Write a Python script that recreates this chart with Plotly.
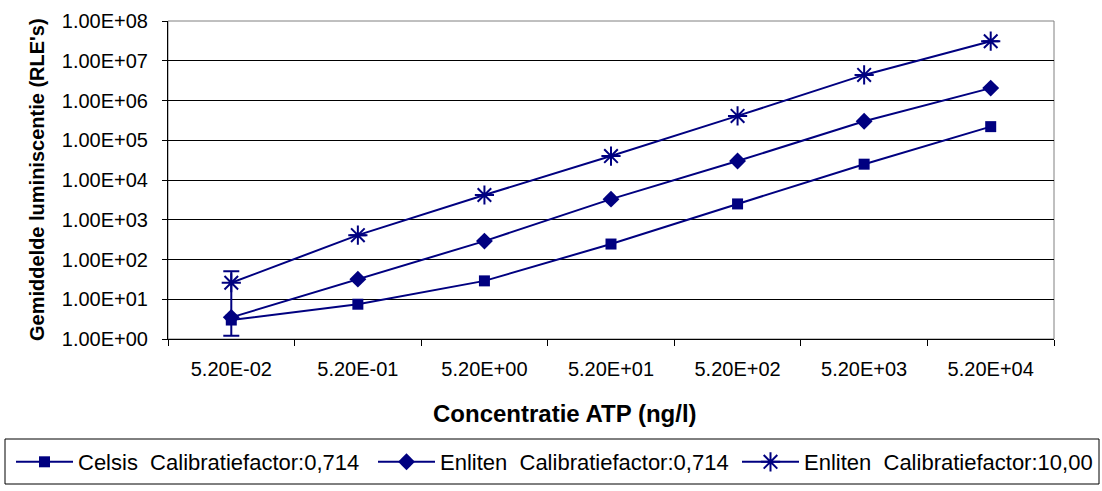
import plotly.graph_objects as go

categories = ["5.20E-02", "5.20E-01", "5.20E+00", "5.20E+01", "5.20E+02", "5.20E+03", "5.20E+04"]
celsis_0714 = [3.0, 7.5, 29, 245, 2500, 25000, 220000]
enliten_0714 = [3.5, 32, 290, 3300, 30000, 300000, 2050000]
enliten_10 = [26, 410, 4200, 40000, 410000, 4400000, 31000000]
enliten_10_err = [24.8, None, None, None, None, None, None]
ytick_vals = [1, 10, 100, 1000, 10000, 100000, 1000000, 10000000, 100000000]
ytick_text = ["1.00E+00", "1.00E+01", "1.00E+02", "1.00E+03", "1.00E+04",
              "1.00E+05", "1.00E+06", "1.00E+07", "1.00E+08"]
names = ["Celsis  Calibratiefactor:0,714", "Enliten  Calibratiefactor:0,714",
         "Enliten  Calibratiefactor:10,00"]

NAVY = "#000080"
FONT = "Arial, 'Liberation Sans', sans-serif"

# plot area in pixels
L, R, T, B = 168, 1054, 21, 339
W, H = R - L, B - T


def px(xp):
    return (xp - L) / W


def py(yp):
    return (B - yp) / H


fig = go.Figure()
fig.add_trace(go.Scatter(x=categories, y=celsis_0714, name=names[0], mode="lines+markers",
                         legend="legend",
                         line=dict(color=NAVY, width=2),
                         marker=dict(symbol="square", size=11, color=NAVY)))
fig.add_trace(go.Scatter(x=categories, y=enliten_0714, name=names[1], mode="lines+markers",
                         legend="legend2",
                         line=dict(color=NAVY, width=2),
                         marker=dict(symbol="diamond", size=13, color=NAVY)))
fig.add_trace(go.Scatter(x=categories, y=enliten_10, name=names[2], mode="lines+markers",
                         legend="legend3",
                         line=dict(color=NAVY, width=2),
                         marker=dict(symbol="asterisk-open", size=16, color=NAVY,
                                     line=dict(color=NAVY, width=2)),
                         error_y=dict(type="data", array=enliten_10_err, visible=True,
                                      color=NAVY, thickness=2, width=8)))

leg_common = dict(orientation="h", xanchor="left", yanchor="middle",
                  bgcolor="rgba(0,0,0,0)", borderwidth=0,
                  font=dict(family=FONT, size=22, color="black"), itemwidth=57)

fig.update_layout(
    width=1102, height=491,
    margin=dict(l=L, r=1102 - R, t=T, b=491 - B, autoexpand=False),
    paper_bgcolor="white", plot_bgcolor="white",
    font=dict(family=FONT, size=20, color="black"),
    showlegend=True,
    legend=dict(x=px(11), y=py(462), **leg_common),
    legend2=dict(x=px(373), y=py(462), **leg_common),
    legend3=dict(x=px(737), y=py(462), **leg_common),
    xaxis=dict(type="category", range=[-0.5, 6.5], showgrid=False, zeroline=False,
               showline=True, linecolor="black", linewidth=1, automargin=False,
               ticks="outside", tickson="boundaries", ticklen=6, tickcolor="black",
               tickfont=dict(size=20), ticklabelstandoff=12),
    yaxis=dict(type="log", range=[0, 8], tickvals=ytick_vals, ticktext=ytick_text,
               showgrid=True, gridcolor="black", gridwidth=1, zeroline=False,
               showline=True, linecolor="black", linewidth=1, automargin=False,
               ticks="outside", ticklen=5, tickcolor="black",
               tickfont=dict(size=20), ticklabelstandoff=10),
    shapes=[
        dict(type="rect", xref="paper", yref="paper", x0=0, x1=1, y0=0, y1=1,
             line=dict(color="#808080", width=1), layer="below"),
        dict(type="rect", xref="paper", yref="paper",
             x0=px(5), x1=px(1099), y0=py(484), y1=py(439),
             line=dict(color="black", width=1)),
    ],
    annotations=[
        dict(text="<b>Gemiddelde luminiscentie (RLE's)</b>", textangle=-90,
             xref="paper", yref="paper", x=px(37), y=py(180),
             xanchor="center", yanchor="middle", showarrow=False,
             font=dict(size=20, family=FONT)),
        dict(text="<b>Concentratie ATP (ng/l)</b>",
             xref="paper", yref="paper", x=px(565), y=py(413),
             xanchor="center", yanchor="middle", showarrow=False,
             font=dict(size=24, family=FONT)),
    ],
)

fig.write_html("out.html")
